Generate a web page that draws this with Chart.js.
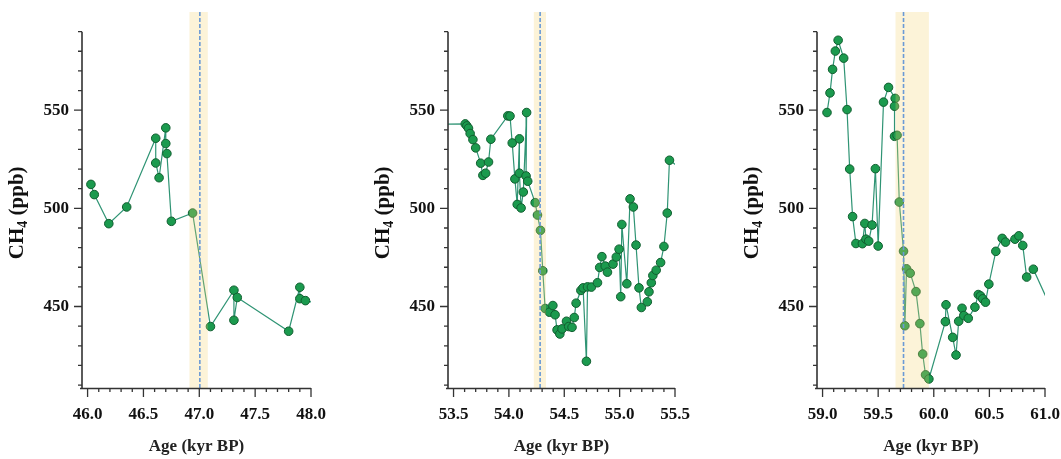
<!DOCTYPE html>
<html>
<head>
<meta charset="utf-8">
<script src="https://cdn.jsdelivr.net/npm/chart.js@4.4.1/dist/chart.umd.min.js"></script>
<style>
  html, body { margin: 0; padding: 0; background: #fff; }
  #wrap { position: relative; width: 1061px; height: 459px; overflow: hidden; }
  canvas { position: absolute; top: 0; }
</style>
</head>
<body>
<div id="wrap">
  <canvas id="p1" width="340" height="459" style="left:0px"></canvas>
  <canvas id="p2" width="340" height="459" style="left:366px"></canvas>
  <canvas id="p3" width="326" height="459" style="left:735px"></canvas>
</div>
<script>
// panel 1 : 46-48 kyr BP (last point runs off the axis and gets clipped)
const age1 = [46.03, 46.06, 46.19, 46.35, 46.61, 46.61, 46.64, 46.70, 46.70, 46.71, 46.75, 46.94,
              47.10, 47.31, 47.31, 47.34, 47.80, 47.90, 47.90, 47.95, 48.10];
const ch4_1 = [512.2, 507.0, 492.2, 500.7, 535.7, 523.1, 515.6, 541.0, 533.0, 527.9, 493.4, 497.6,
               439.8, 458.3, 443.0, 454.6, 437.4, 459.8, 454.0, 453.0, 451.0];

// panel 2 : 53.5-55.5 kyr BP
const age2 = [53.30, 53.606, 53.62, 53.635, 53.65, 53.675, 53.70, 53.745, 53.765, 53.79, 53.816, 53.837,
              53.99, 54.01, 54.03, 54.054, 54.075, 54.095, 54.095, 54.11, 54.13, 54.16, 54.155, 54.17,
              54.237, 54.258, 54.285, 54.306, 54.327, 54.366, 54.397, 54.417, 54.435, 54.46, 54.48, 54.52,
              54.54, 54.57, 54.59, 54.607, 54.65, 54.67, 54.70, 54.71, 54.745, 54.80, 54.82, 54.84,
              54.87, 54.89, 54.94, 54.97, 54.995, 55.01, 55.02, 55.065, 55.094, 55.124, 55.148, 55.175,
              55.196, 55.25, 55.265, 55.286, 55.30, 55.33, 55.37, 55.40, 55.43, 55.45, 55.60];
const ch4_2 = [542.7, 543.0, 542.0, 540.8, 538.1, 535.0, 530.8, 523.0, 516.8, 517.9, 523.6, 535.2,
               547.1, 547.0, 533.3, 515.0, 502.0, 535.4, 517.9, 500.2, 508.3, 548.8, 516.5, 513.8,
               502.9, 496.6, 488.8, 468.2, 449.0, 447.1, 450.5, 445.8, 438.1, 436.0, 438.6, 442.5,
               439.8, 439.4, 444.4, 451.7, 458.2, 459.5, 422.1, 460.0, 459.9, 462.1, 469.9, 475.4,
               470.6, 467.5, 471.6, 475.2, 479.2, 455.0, 491.8, 461.6, 504.8, 500.7, 481.3, 459.5,
               449.5, 452.4, 457.5, 462.1, 465.8, 468.5, 472.4, 480.6, 497.6, 524.5, 518.5];

// panel 3 : 59-61 kyr BP
const age3 = [59.04, 59.067, 59.09, 59.115, 59.14, 59.19, 59.22, 59.244, 59.27, 59.30, 59.358, 59.38,
              59.39, 59.415, 59.445, 59.475, 59.50, 59.548, 59.593, 59.653, 59.647, 59.647, 59.67, 59.69,
              59.728, 59.74, 59.755, 59.788, 59.84, 59.875, 59.90, 59.926, 59.956, 60.104, 60.11, 60.17,
              60.20, 60.224, 60.254, 60.27, 60.31, 60.37, 60.40, 60.42, 60.44, 60.465, 60.495, 60.558,
              60.615, 60.645, 60.73, 60.765, 60.80, 60.835, 60.895, 61.10];
const ch4_3 = [548.8, 558.8, 570.8, 580.1, 585.6, 576.5, 550.3, 520.0, 495.8, 482.1, 482.0, 492.3,
               484.3, 483.3, 491.5, 520.2, 480.8, 554.1, 561.6, 556.0, 552.0, 536.7, 537.2, 503.2,
               478.2, 440.2, 469.2, 467.0, 457.6, 441.3, 425.8, 415.2, 413.1, 442.3, 450.9, 434.3,
               425.3, 442.5, 449.1, 445.4, 444.0, 449.7, 456.1, 455.4, 453.9, 452.2, 461.4, 478.1,
               484.7, 482.8, 484.3, 486.0, 481.1, 465.0, 469.0, 443.6];

// shaded transition windows and the dashed event marker
const band1 = [46.912, 47.076], event1 = 47.005;
const band2 = [54.225, 54.335], event2 = 54.282;
const band3 = [59.656, 59.956], event3 = 59.728;

const xLabels1 = ['46.0', '46.5', '47.0', '47.5', '48.0'];
const xLabels2 = ['53.5', '54.0', '54.5', '55.0', '55.5'];
const xLabels3 = ['59.0', '59.5', '60.0', '60.5', '61.0'];

const yTicks  = [410, 420, 430, 440, 450, 460, 470, 480, 490, 500, 510, 520, 530, 540, 550, 560, 570, 580, 590];
const yLabels = ['450', '500', '550'];

const SERIF = "'Liberation Serif', 'Times New Roman', serif";
const AXIS_COLOR = '#333';

const hasLabel = (labels, v) => labels.find(l => Math.abs(Number(l) - v) < 1e-6);

const framePlugin = {
  id: 'frame',
  afterDatasetsDraw(chart, args, opts) {
    const { ctx, chartArea: a, scales: { x, y } } = chart;
    ctx.save();

    // pale shading on top of the series
    const b0 = x.getPixelForValue(opts.band[0]);
    const b1 = x.getPixelForValue(opts.band[1]);
    ctx.fillStyle = 'rgba(245,212,110,0.27)';
    ctx.fillRect(b0, a.top, b1 - b0, a.bottom - a.top);

    // event line
    const ex = x.getPixelForValue(opts.event);
    ctx.strokeStyle = '#6a9ad6';
    ctx.lineWidth = 1.6;
    ctx.setLineDash([4, 2]);
    ctx.beginPath();
    ctx.moveTo(ex, a.top);
    ctx.lineTo(ex, a.bottom);
    ctx.stroke();
    ctx.setLineDash([]);

    // axis lines
    ctx.strokeStyle = AXIS_COLOR;
    ctx.lineWidth = 1.6;
    const yTop = y.getPixelForValue(yTicks[yTicks.length - 1]);
    ctx.beginPath();
    ctx.moveTo(a.left, yTop);
    ctx.lineTo(a.left, a.bottom);
    ctx.moveTo(a.left - 2, a.bottom + 0.5);
    ctx.lineTo(a.right, a.bottom + 0.5);
    ctx.stroke();

    // tick marks, longer at labelled values
    ctx.lineWidth = 1.3;
    ctx.beginPath();
    y.ticks.forEach(t => {
      const py = y.getPixelForValue(t.value);
      const len = hasLabel(yLabels, t.value) ? 8 : 4;
      ctx.moveTo(a.left - len, py);
      ctx.lineTo(a.left, py);
    });
    x.ticks.forEach(t => {
      const px = x.getPixelForValue(t.value);
      const len = hasLabel(opts.xLabels, t.value) ? 9 : 4;
      ctx.moveTo(px, a.bottom);
      ctx.lineTo(px, a.bottom + len);
    });
    ctx.stroke();
    ctx.restore();
  },
  afterDraw(chart) {
    // y title with a real subscript
    const { ctx, chartArea: a, scales: { y } } = chart;
    const cy = (y.getPixelForValue(yTicks[yTicks.length - 1]) + a.bottom) / 2 + 3;
    const big = 'bold 21px ' + SERIF;
    const small = 'bold 14px ' + SERIF;
    ctx.save();
    ctx.translate(18, cy);
    ctx.rotate(-Math.PI / 2);
    ctx.fillStyle = '#111';
    ctx.textBaseline = 'middle';
    ctx.textAlign = 'left';
    ctx.font = big;
    const w1 = ctx.measureText('CH').width;
    const w3 = ctx.measureText(' (ppb)').width;
    ctx.font = small;
    const w2 = ctx.measureText('4').width;
    let tx = -(w1 + w2 + w3) / 2;
    ctx.font = big;
    ctx.fillText('CH', tx, 0);
    tx += w1;
    ctx.font = small;
    ctx.fillText('4', tx, 5);
    tx += w2;
    ctx.font = big;
    ctx.fillText(' (ppb)', tx, 0);
    ctx.restore();
  }
};

function makePanel(id, ages, vals, xLabels, band, event, padRight) {
  const lo = Number(xLabels[0]);
  const hi = Number(xLabels[xLabels.length - 1]);
  const xTicks = [];
  for (let k = 0; lo + k * 0.1 <= hi + 1e-9; k++) xTicks.push(+(lo + k * 0.1).toFixed(1));

  return new Chart(document.getElementById(id), {
    type: 'scatter',
    data: {
      datasets: [{
        data: ages.map((a, i) => ({ x: a, y: vals[i] })),
        showLine: true,
        borderColor: '#2f9474',
        borderWidth: 1.2,
        pointRadius: 4.3,
        pointBorderWidth: 1,
        pointBackgroundColor: '#1b9a4e',
        pointBorderColor: '#115e30',
        clip: 0,
      }],
    },
    options: {
      responsive: false,
      animation: false,
      layout: { padding: { left: 0, top: 12, right: padRight, bottom: 0 } },
      plugins: {
        legend: { display: false },
        tooltip: { enabled: false },
        frame: { band, event, xLabels },
      },
      scales: {
        x: {
          type: 'linear',
          min: lo - 0.05,
          max: hi,
          afterBuildTicks: s => { s.ticks = xTicks.map(v => ({ value: v })); },
          afterFit: s => { s.height = 71; s.paddingLeft = 0; s.paddingRight = 0; },
          grid: { display: false, drawTicks: false },
          border: { display: false },
          ticks: {
            autoSkip: false,
            maxRotation: 0,
            padding: 16,
            color: '#111',
            font: { family: SERIF, size: 17, weight: 'bold' },
            callback: v => hasLabel(xLabels, v) || '',
          },
          title: {
            display: true,
            text: 'Age (kyr BP)',
            color: '#222',
            font: { family: SERIF, size: 17, weight: 'bold' },
            padding: { top: 0, bottom: 2 },
          },
        },
        y: {
          type: 'linear',
          min: 408.5,
          max: 600,
          afterBuildTicks: s => { s.ticks = yTicks.map(v => ({ value: v })); },
          afterFit: s => { s.width = 82; s.paddingTop = 0; s.paddingBottom = 0; },
          grid: { display: false, drawTicks: false },
          border: { display: false },
          ticks: {
            autoSkip: false,
            padding: 13,
            color: '#111',
            font: { family: SERIF, size: 17, weight: 'bold' },
            callback: v => hasLabel(yLabels, v) || '',
          },
        },
      },
    },
    plugins: [framePlugin],
  });
}

makePanel('p1', age1, ch4_1, xLabels1, band1, event1, 29);
makePanel('p2', age2, ch4_2, xLabels2, band2, event2, 31);
makePanel('p3', age3, ch4_3, xLabels3, band3, event3, 16);
</script>
</body>
</html>
